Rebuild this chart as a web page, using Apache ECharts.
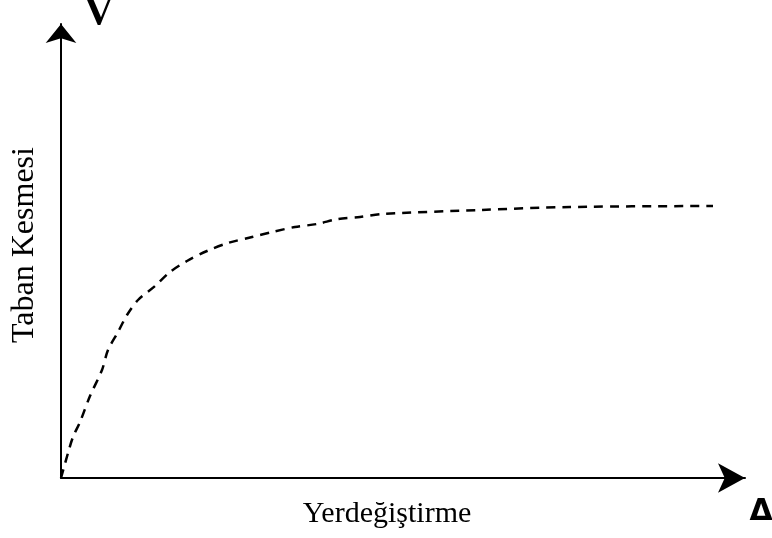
<!DOCTYPE html>
<html>
<head>
<meta charset="utf-8">
<script src="https://cdn.jsdelivr.net/npm/echarts@6/dist/echarts.min.js"></script>
<style>html,body{margin:0;padding:0;background:#fff}#c{width:772px;height:538px}</style>
</head>
<body>
<div id="c"></div>
<script>
// Displacement (x) and base shear (y) in relative units
const xValues = [0, 7, 12, 19, 29, 41, 47, 57, 66, 77, 94, 109, 126, 146, 167, 191, 211, 234, 256, 277, 299, 321, 419, 509, 652];
const yValues = [0, 25, 41, 56, 82, 108, 128, 146, 163, 178, 192, 206, 217, 227, 235, 241, 246, 251, 254, 259, 261, 264, 268, 271, 272];
const xTitle = 'Yerdeğiştirme';
const yTitle = 'Taban Kesmesi';
const xSymbol = 'Δ';
const ySymbol = 'V';

const chart = echarts.init(document.getElementById('c'), null, {renderer: 'canvas'});
const serif = '"Liberation Serif", "Times New Roman", serif';
chart.setOption({
  backgroundColor: '#fff',
  animation: false,
  grid: {left: 61, right: 27, top: 24, bottom: 60, containLabel: false, outerBoundsMode: 'none'},
  xAxis: {
    type: 'value', min: 0, max: 684,
    axisLine: {show: true, symbol: ['none', 'arrow'], symbolSize: [22, 27], lineStyle: {color: '#000', width: 2}},
    axisTick: {show: false}, axisLabel: {show: false}, splitLine: {show: false}
  },
  yAxis: {
    type: 'value', min: 0, max: 454,
    axisLine: {show: true, symbol: ['none', 'arrow'], symbolSize: [23, 19], lineStyle: {color: '#000', width: 2}},
    axisTick: {show: false}, axisLabel: {show: false}, splitLine: {show: false}
  },
  graphic: [
    {type: 'text', x: 387, y: 514, style: {text: xTitle, font: '30px ' + serif, fill: '#000', align: 'center', verticalAlign: 'middle'}},
    {type: 'text', x: 25, y: 245, rotation: Math.PI / 2, style: {text: yTitle, font: '32px ' + serif, fill: '#000', align: 'center', verticalAlign: 'middle'}},
    {type: 'text', x: 99, y: 14, style: {text: ySymbol, font: 'bold 40px ' + serif, fill: '#000', align: 'center', verticalAlign: 'middle'}},
    {type: 'text', x: 761, y: 512, style: {text: xSymbol, font: 'bold 30px "DejaVu Sans", sans-serif', fill: '#000', align: 'center', verticalAlign: 'middle'}}
  ],
  series: [{
    type: 'line',
    data: xValues.map((x, i) => [x, yValues[i]]),
    smooth: 0.3,
    showSymbol: false,
    lineStyle: {color: '#000', width: 2.5, type: [9, 7]}
  }]
});
</script>
</body>
</html>
